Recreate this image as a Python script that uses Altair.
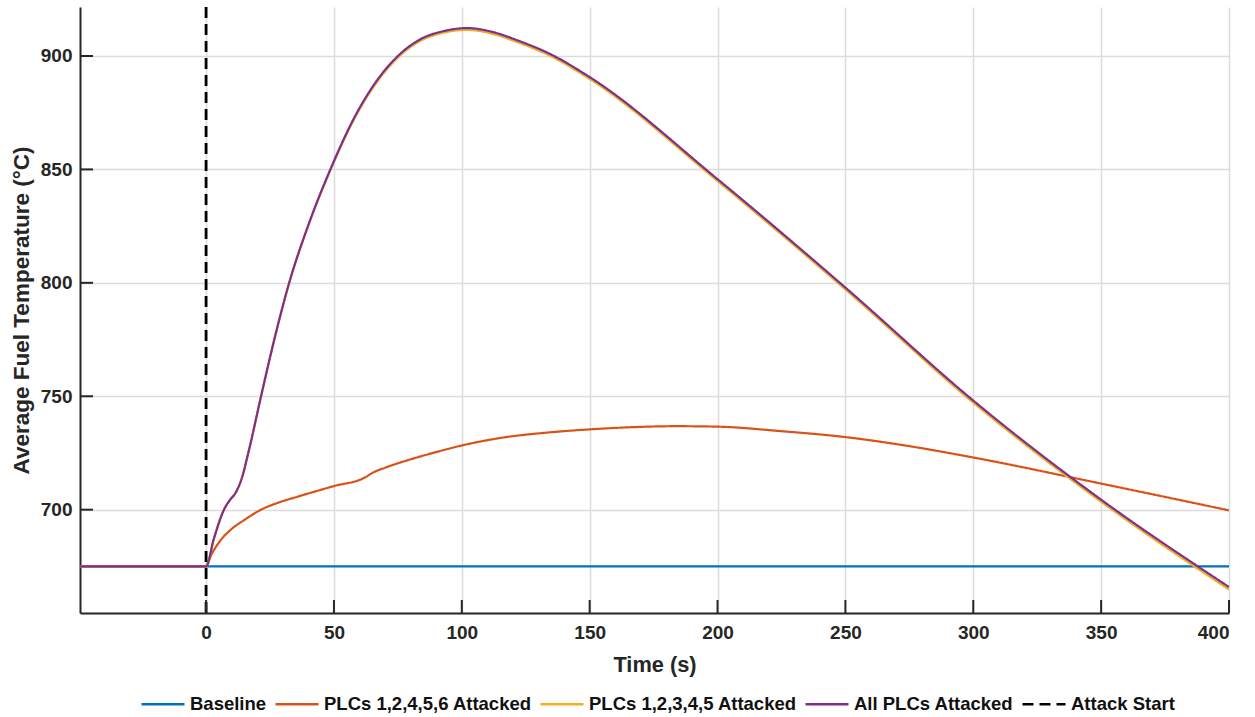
import altair as alt
import pandas as pd

# ---------------- data ----------------
series_names = ["Baseline", "PLCs 1,2,4,5,6 Attacked", "PLCs 1,2,3,4,5 Attacked",
                "All PLCs Attacked", "Attack Start"]
series_colors = ["#0072BD", "#D95319", "#EDB120", "#7E2F8E", "#000000"]

t_base = [-49.3, 0, 400]
y_base = [675, 675, 675]

t_1246 = [-49.3, 0, 2, 5, 10, 15, 21.5, 28, 36, 50, 62.3, 65, 70, 80, 90, 100, 115,
          134.5, 150, 165, 184, 200, 225, 250, 275, 300, 350, 400]
y_1246 = [675, 675, 680, 685.5, 691.5, 695.5, 700, 703, 705.8, 710.4, 714.3, 716.2,
          718.5, 722.2, 725.4, 728.3, 731.6, 734.1, 735.4, 736.3, 736.8, 736.6, 734.6,
          732, 728, 723, 711.5, 699.7]

t_all = [-49.3, 0, 3, 7, 9.5, 11.3, 14, 16.5, 21.5, 27, 32.5, 40, 48.6, 58.5, 67, 75,
         84, 93, 102, 112, 121.5, 134.5, 150, 200, 250, 300, 350, 400]
y_all = [675, 675, 687, 700, 704.5, 707, 714, 725, 750, 776.5, 800, 825.5, 850, 874,
         889.5, 900, 907.5, 911, 912.3, 910.6, 907, 900.9, 890.7, 845.7, 797.9, 748.1,
         704.4, 665.9]

t_12345 = t_all
y_12345 = [675, 675, 687, 700, 704.5, 707, 714, 725, 750, 776.5, 800, 825.3, 849.6, 873.4,
           888.8, 899.3, 906.8, 910.3, 911.5, 909.8, 906.2, 900.1, 889.9, 844.9, 797.1,
           747.2, 703.5, 664.8]

attack_time = [0]
x_ticks = [0, 50, 100, 150, 200, 250, 300, 350, 400]
y_ticks = [700, 750, 800, 850, 900]
x_domain = [-49.3, 400]
y_domain = [654.45, 921.6]

# ---------------- build tables ----------------
rows = []
for name, ts, ys in [(series_names[0], t_base, y_base),
                     (series_names[1], t_1246, y_1246),
                     (series_names[2], t_12345, y_12345),
                     (series_names[3], t_all, y_all)]:
    for t, y in zip(ts, ys):
        rows.append({"series": name, "t": t, "temp": y})
df = pd.DataFrame(rows)
df_attack = pd.DataFrame({"series": [series_names[4]] * len(attack_time), "t": attack_time})
df_xt = pd.DataFrame({"t": x_ticks})
df_yt = pd.DataFrame({"temp": y_ticks})

W, H = 1149, 606
FONT = "Liberation Sans"
INK = "#262626"

xscale = alt.Scale(domain=x_domain, nice=False, zero=False)
yscale = alt.Scale(domain=y_domain, nice=False, zero=False)
legend = alt.Legend(title=None, orient="none", direction="horizontal",
                    legendX=60, legendY=674, symbolType="stroke",
                    symbolSize=1849, symbolStrokeWidth=2.5,
                    labelFont=FONT, labelFontWeight="bold", labelLimit=0,
                    labelFontSize=18.5, labelColor="#111111",
                    labelOffset=4, columnPadding=3, padding=0)
color = alt.Color("series:N", scale=alt.Scale(domain=series_names, range=series_colors),
                  legend=legend)
dash = alt.StrokeDash("series:N",
                      scale=alt.Scale(domain=series_names,
                                      range=[[1, 0], [1, 0], [1, 0], [1, 0], [11, 6]]),
                      legend=legend)

xaxis = alt.Axis(values=x_ticks, title="Time (s)", titleFontSize=21.8, titleFont=FONT,
                 titleFontWeight="bold", titleColor=INK, titleY=58,
                 titleBaseline="alphabetic", labelPadding=10)
yaxis = alt.Axis(values=y_ticks, title="Average Fuel Temperature (°C)", titleFontSize=22.5,
                 titleFont=FONT, titleFontWeight="bold", titleColor=INK, titleX=-52,
                 titleY=H / 2, titleBaseline="alphabetic", titleAngle=270, labelPadding=8)

X = alt.X("t:Q", scale=xscale, axis=xaxis)
Y = alt.Y("temp:Q", scale=yscale, axis=yaxis)

layers = []
for name in series_names[:4]:
    layers.append(
        alt.Chart(df).transform_filter(alt.datum.series == name)
        .mark_line(strokeWidth=2.2, clip=True, interpolate="monotone")
        .encode(x=X, y=Y, color=color, strokeDash=dash)
    )

attack = alt.Chart(df_attack).mark_rule(strokeWidth=2.8).encode(
    x=X, color=color, strokeDash=dash)

ytick_marks = alt.Chart(df_yt).mark_rule(color=INK, strokeWidth=2).encode(
    y=Y, x=alt.value(0), x2=alt.value(13))
xtick_marks = alt.Chart(df_xt).mark_rule(color=INK, strokeWidth=2).encode(
    x=X, y=alt.value(H - 13), y2=alt.value(H))

chart = alt.layer(*layers, attack, ytick_marks, xtick_marks).properties(
    width=W, height=H,
    padding={"left": 80, "top": 7, "right": 26, "bottom": 104},
    autosize=alt.AutoSizeParams(type="none"),
    background="white",
).configure_view(stroke=None).configure_axis(
    domainColor=INK, domainWidth=2, ticks=False, grid=True, gridColor="#dcdcdc",
    gridWidth=1.5, labelFont=FONT, labelFontWeight="bold", labelFontSize=19,
    labelColor=INK,
)

chart.save("out.html", embed_options={"renderer": "svg", "actions": False})
